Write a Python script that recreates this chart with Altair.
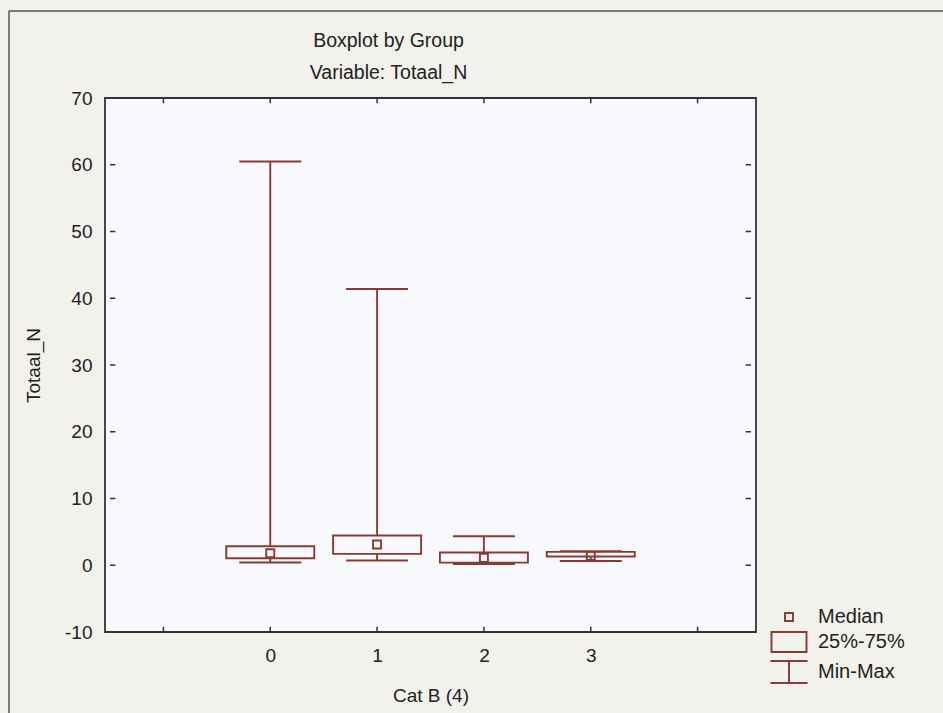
import altair as alt
import pandas as pd

# ---- data ----
cats = [0, 1, 2, 3]
mins = [0.4, 0.7, 0.2, 0.65]
q1s = [1.05, 1.7, 0.4, 1.3]
medians = [1.8, 3.1, 1.1, 1.4]
q3s = [2.85, 4.45, 1.9, 2.0]
maxs = [60.5, 41.4, 4.35, 2.1]

y_ticks = [-10, 0, 10, 20, 30, 40, 50, 60, 70]
x_ticks = [-1, 0, 1, 2, 3, 4]
x_labels = [0, 1, 2, 3]
legend_items = ["Median", "25%-75%", "Min-Max"]

# ---- styling ----
BROWN = "#8a3a30"
PLOT_BG = "#f8f9fc"
PAGE_BG = "#f2f1ec"
AXIS_C = "#333333"
TXT = "#222222"
FONT = "Liberation Sans, Arial, sans-serif"
X_DOM = [-1.5, 4.5]
Y_DOM = [-10, 70]

df = pd.DataFrame({"cat": cats, "min": mins, "q1": q1s, "median": medians,
                   "q3": q3s, "max": maxs, "kind": ["Median"] * len(cats)})
yt = pd.DataFrame({"v": y_ticks})
xt = pd.DataFrame({"v": x_ticks})
frame_df = pd.DataFrame({"k": [0]})

xs = alt.Scale(domain=X_DOM, nice=False, zero=False)
ys = alt.Scale(domain=Y_DOM, nice=False, zero=False)

x_label_expr = "indexof([" + ",".join(str(v) for v in x_labels) + "], datum.value) >= 0 ? datum.value : ''"

x_axis = alt.Axis(values=x_ticks, labelExpr=x_label_expr, ticks=False, domain=False, grid=False,
                  labelPadding=14, labelFontSize=19, labelColor=TXT, labelFont=FONT,
                  title="Cat B (4)", titleFontSize=19, titleFont=FONT, titleColor=TXT,
                  titleFontWeight="normal", titleY=69, titleBaseline="alphabetic")
y_axis = alt.Axis(values=y_ticks, labelExpr="'' + datum.value", ticks=False, domain=False,
                  grid=False, labelPadding=13, labelFontSize=19, labelColor=TXT, labelFont=FONT,
                  title="Totaal_N", titleFontSize=19, titleFont=FONT, titleColor=TXT,
                  titleFontWeight="normal", titleX=-72, titleY=267, titleAngle=270,
                  titleAlign="center", titleBaseline="middle")

base = alt.Chart(df)

whisker = base.mark_rule(color=BROWN, strokeWidth=1.9).encode(
    x=alt.X("cat:Q", scale=xs, axis=x_axis),
    y=alt.Y("min:Q", scale=ys, axis=y_axis),
    y2="max:Q",
)
caps_top = base.mark_tick(orient="horizontal", color=BROWN, size=62, thickness=2,
                          opacity=1).encode(
    x=alt.X("cat:Q", scale=xs), y=alt.Y("max:Q", scale=ys))
caps_bot = base.mark_tick(orient="horizontal", color=BROWN, size=62, thickness=2,
                          opacity=1).encode(
    x=alt.X("cat:Q", scale=xs), y=alt.Y("min:Q", scale=ys))
box = base.mark_bar(size=88, fill=PLOT_BG, stroke=BROWN, strokeWidth=1.9, opacity=1).encode(
    x=alt.X("cat:Q", scale=xs), y=alt.Y("q1:Q", scale=ys), y2="q3:Q")

SQ = "M-0.4,-0.4H0.4V0.4H-0.4Z"
BOXP = "M-1.75,-1H1.75V1H-1.75Z"
IBEAM = "M-1.85,-1.1H1.85M0,-1.1V1.1M-1.85,1.1H1.85"

med = base.mark_point(filled=False, strokeWidth=1.9, size=400, color=BROWN, opacity=1).encode(
    x=alt.X("cat:Q", scale=xs), y=alt.Y("median:Q", scale=ys),
    shape=alt.Shape("kind:N",
                    scale=alt.Scale(domain=legend_items, range=[SQ, BOXP, IBEAM]),
                    legend=alt.Legend(title=None, orient="none", legendX=673, legendY=508,
                                      symbolSize=400, symbolStrokeColor=BROWN,
                                      symbolFillColor="transparent", symbolStrokeWidth=1.9,
                                      symbolOpacity=1,
                                      labelFontSize=20, labelFont=FONT, labelColor=TXT,
                                      labelOffset=18, rowPadding=1, padding=0)),
)

tick_style = dict(color=AXIS_C, strokeWidth=1.5)
yl = alt.Chart(yt).mark_rule(**tick_style).encode(
    y=alt.Y("v:Q", scale=ys), x=alt.datum(X_DOM[0]), x2=alt.datum(X_DOM[0] + 0.05))
yr = alt.Chart(yt).mark_rule(**tick_style).encode(
    y=alt.Y("v:Q", scale=ys), x=alt.datum(X_DOM[1]), x2=alt.datum(X_DOM[1] - 0.05))
xb = alt.Chart(xt).mark_rule(**tick_style).encode(
    x=alt.X("v:Q", scale=xs), y=alt.datum(Y_DOM[0]), y2=alt.datum(Y_DOM[0] + 0.8))
xtp = alt.Chart(xt).mark_rule(**tick_style).encode(
    x=alt.X("v:Q", scale=xs), y=alt.datum(Y_DOM[1]), y2=alt.datum(Y_DOM[1] - 0.8))

# scanned page frame (decoration at the left and top edges of the picture)
frame_l = alt.Chart(frame_df).mark_rule(color="#555555", strokeWidth=1.5).encode(
    x=alt.value(-96), y=alt.value(-87), y2=alt.value(640))
frame_t = alt.Chart(frame_df).mark_rule(color="#555555", strokeWidth=1.5).encode(
    x=alt.value(-96), x2=alt.value(860), y=alt.value(-87))

chart = alt.layer(whisker, caps_top, caps_bot, box, med, yl, yr, xb, xtp,
                  frame_l, frame_t).properties(
    width=651, height=534,
    title=alt.TitleParams(text=["Boxplot by Group", "Variable: Totaal_N"], anchor="middle",
                          dx=-42, fontSize=19.5, font=FONT, fontWeight="normal",
                          color=TXT, lineHeight=32, offset=-73.5),
    autosize=alt.AutoSizeParams(type="none"),
    padding={"left": 105, "top": 98, "right": 187, "bottom": 81},
    background=PAGE_BG,
).configure_view(fill=PLOT_BG, stroke=AXIS_C, strokeWidth=1.8)

chart.save("out.html", embed_options={"renderer": "svg", "actions": False})
